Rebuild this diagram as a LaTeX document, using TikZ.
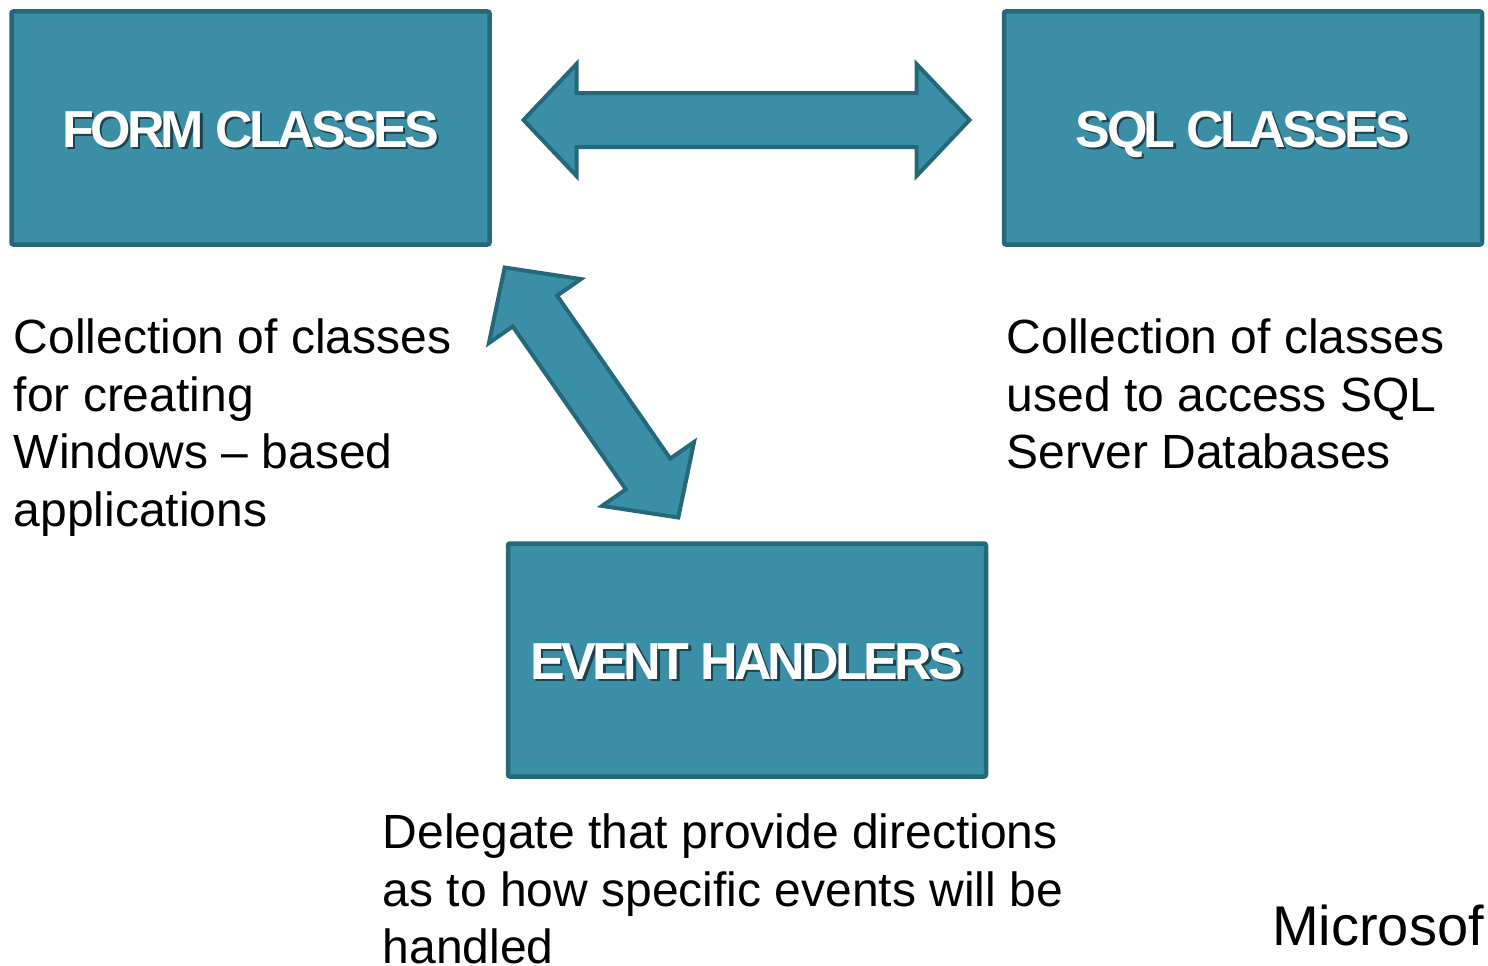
\documentclass[tikz,border=0pt]{standalone}
\usepackage{fontspec}
\setmainfont{Liberation Sans}
\usetikzlibrary{calc,positioning}

\definecolor{caixa}{RGB}{58,143,166}
\definecolor{borda}{RGB}{37,104,122}
\definecolor{sombra}{RGB}{30,66,76}

% medidas das setas largas
\newcommand{\headlen}{53pt}
\newcommand{\headw}{56pt}
\newcommand{\shaftw}{27pt}

% texto com sombra
\newcommand{\sombratxt}[1]{\rlap{\kern2.5pt\raisebox{-2.5pt}{\textcolor{sombra}{#1}}}#1}

% seta dupla entre duas pontas
\newcommand{\setadupla}[2]{%
  \coordinate (b1) at ($(#1)!\headlen!(#2)$);
  \coordinate (b2) at ($(#2)!\headlen!(#1)$);
  \draw[seta] (#1) -- ($(b1)!\headw!90:(#2)$) -- ($(b1)!\shaftw!90:(#2)$)
    -- ($(b2)!\shaftw!-90:(#1)$) -- ($(b2)!\headw!-90:(#1)$) -- (#2)
    -- ($(b2)!\headw!90:(#1)$) -- ($(b2)!\shaftw!90:(#1)$)
    -- ($(b1)!\shaftw!-90:(#2)$) -- ($(b1)!\headw!-90:(#2)$) -- cycle;}

\begin{document}
\begin{tikzpicture}[x=1pt, y=-1pt,
    caixa/.style={draw=borda, fill=caixa, line width=4.5pt, rounded corners=2pt,
      minimum width=478pt, minimum height=233pt, inner sep=0pt, text=white,
      text height=38pt, text depth=0pt,
      font=\fontsize{52}{60}\selectfont\bfseries\addfontfeature{LetterSpace=-7}},
    seta/.style={draw=borda, fill=caixa, line width=4pt, line join=miter},
    texto/.style={anchor=north west, inner sep=0pt, align=left,
      font=\fontsize{48}{57.4}\selectfont}]

    \useasboundingbox (0,0) rectangle (1488,966);

    % caixas
    \node[caixa] (form) at (250.5,128) {\sombratxt{FORM CLASSES}};
    \node[caixa] (sql) at (1243,128) {\sombratxt{SQL CLASSES}};
    \node[caixa] (event) at (747,660) {\sombratxt{EVENT HANDLERS}};

    % pontas das setas
    \coordinate (hl) at (523.5,120);
    \coordinate (hr) at (969.5,120);
    \coordinate (dt) at (504.7,267.5);
    \coordinate (db) at (678.3,517.5);

    % setas
    \setadupla{hl}{hr}
    \setadupla{dt}{db}

    % descricoes
    \node[texto] (formtxt) at (13.5,319) {Collection of classes\\for creating\\Windows \textendash{} based\\applications};
    \node[texto] (sqltxt) at (1006.5,319) {Collection of classes\\used to access SQL\\Server Databases};
    \node[texto] (eventtxt) at (382.5,814) {Delegate that provide directions\\as to how specific events will be\\handled};
    \node[texto, font=\fontsize{56}{60}\selectfont] (ms) at (1272,905) {Microsof};

\end{tikzpicture}
\end{document}
